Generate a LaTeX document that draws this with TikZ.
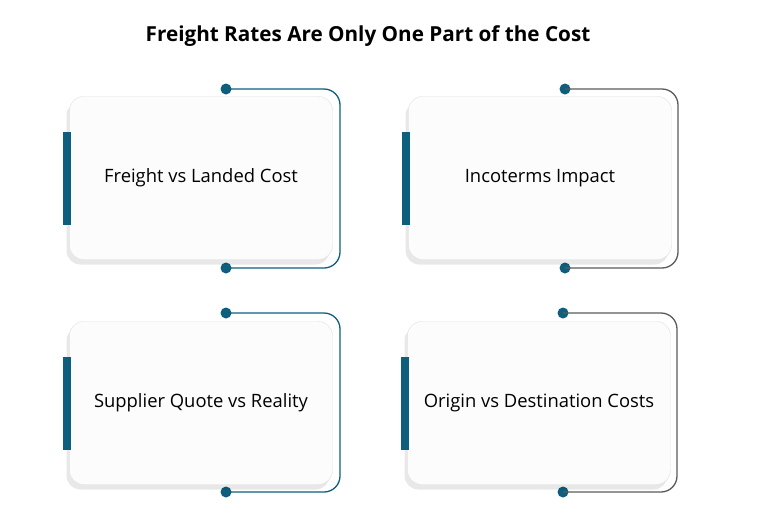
\documentclass[tikz,border=0pt]{standalone}
\usepackage{fontspec}
\setmainfont{Open Sans}
\usetikzlibrary{positioning,shadows}
\definecolor{cardteal}{HTML}{0E5F7E}
\definecolor{greyline}{HTML}{5A5A5A}
\tikzset{
  card/.style={draw=black!12,fill=white!98!gray,rounded corners=14pt,minimum width=263pt,minimum height=163pt,
     font=\fontsize{18.4}{20}\selectfont,
     drop shadow={shadow xshift=-3pt,shadow yshift=-5pt,opacity=.09,fill=black}},
  bar/.style={fill=cardteal,draw=none},
  dot/.style={circle,fill=cardteal,inner sep=0pt,minimum size=11pt},
  link/.style={line width=1.3pt,rounded corners=16pt}
}
\begin{document}
\begin{tikzpicture}[x=1pt,y=-1pt]
\useasboundingbox (0,0) rectangle (766,528);
\node[font=\fontsize{20.7}{22}\selectfont\bfseries] (title) at (368,36) {Freight Rates Are Only One Part of the Cost};
% top row
\node (d1a)[dot] at (226,89) {};
\node (d1b)[dot] at (226,268) {};
\draw[link,cardteal] (d1a.center) -- (340,89) -- (340,268) -- (d1b.center);
\node (c1)[card] at (201,178) {Freight vs Landed Cost};
\fill[bar] (63,132) rectangle (71,225);
\node (d2a)[dot] at (565,89) {};
\node (d2b)[dot] at (565,268) {};
\draw[link,greyline] (d2a.center) -- (678,89) -- (678,268) -- (d2b.center);
\node (c2)[card] at (540,178) {Incoterms Impact};
\fill[bar] (402,132) rectangle (410,225);
% bottom row
\node (d3a)[dot] at (226,313) {};
\node (d3b)[dot] at (226,492) {};
\draw[link,cardteal] (d3a.center) -- (340,313) -- (340,492) -- (d3b.center);
\node (c3)[card] at (201,403) {Supplier Quote vs Reality};
\fill[bar] (63,357) rectangle (71,450);
\node (d4a)[dot] at (563,313) {};
\node (d4b)[dot] at (563,492) {};
\draw[link,greyline] (d4a.center) -- (677,313) -- (677,492) -- (d4b.center);
\node (c4)[card] at (539,403) {Origin vs Destination Costs};
\fill[bar] (401,357) rectangle (409,450);
\end{tikzpicture}
\end{document}
